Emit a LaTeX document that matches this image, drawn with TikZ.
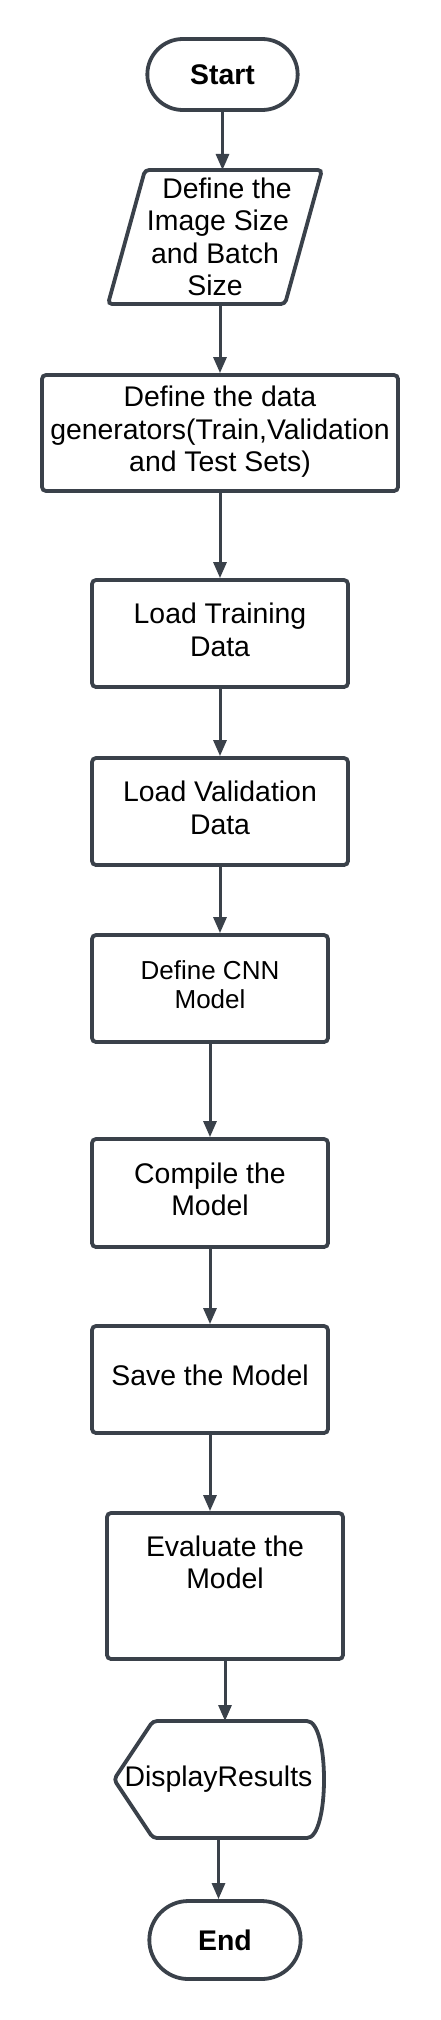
\documentclass[tikz,border=0pt]{standalone}
\usepackage{fontspec}
\setmainfont{Liberation Sans}
\usetikzlibrary{shapes.misc,arrows.meta,positioning}
\definecolor{linegray}{HTML}{3A414A}

\begin{document}
\begin{tikzpicture}[x=1pt,y=-1pt,on grid,
    font=\fontsize{28.4}{32.5}\selectfont,
    every node/.style={align=center,text=black},
    outline/.style={draw=linegray,line width=3.8pt,rounded corners=4pt},
    process/.style={rectangle,outline,text depth=8pt,minimum width=236pt,minimum height=107pt},
    io/.style={rectangle,line width=3.8pt,outer sep=0pt,minimum width=214pt,minimum height=134pt},
    display/.style={rectangle,line width=3.8pt,outer sep=0pt,minimum width=209pt,minimum height=117pt},
    term/.style={rounded rectangle,draw=linegray,line width=3.8pt,minimum width=157pt,minimum height=71pt,font=\fontsize{28.4}{32.5}\selectfont\bfseries},
    flow/.style={draw=linegray,line width=3pt,-{Triangle[width=13pt,length=16pt]}}]
  \useasboundingbox (0,0) rectangle (440,2020);

  \node[term] (start) at (222.5,74.5) {Start};
  \node[io] (size) [below=162.5pt of start, xshift=-7.5pt]
    {\hspace{24pt}Define the\\\hspace{6pt}Image Size\\and Batch\hspace{12pt}\\Size\hspace{34pt}};
  \node[process, minimum width=356pt, minimum height=116pt] (gen) [below=196pt of size, xshift=5pt]
    {Define the data\\generators(Train,Validation\\and Test Sets)};
  \node[process, minimum width=256pt] (train) [below=200.5pt of gen] {Load Training\\Data};
  \node[process, minimum width=256pt] (val) [below=178pt of train] {Load Validation\\Data};
  \node[process, font=\fontsize{26}{29}\selectfont] (cnn) [below=177pt of val, xshift=-10pt] {Define CNN\\Model};
  \node[process, minimum height=108pt] (compile) [below=204.5pt of cnn] {Compile the\\Model};
  \node[process] (save) [below=186.5pt of compile] {Save the Model};
  \node[process, minimum height=146pt, text depth=48pt] (eval) [below=206.5pt of save, xshift=15pt] {Evaluate the\\Model};
  \node[display] (disp) [below=193.5pt of eval, xshift=-6.5pt] {DisplayResults};
  \node[term, minimum width=158pt, minimum height=78pt] (stop) [below=160.5pt of disp, xshift=6.5pt] {End};

  % input and display outlines
  \draw[outline] ([xshift=37pt]size.north west) -- (size.north east)
    -- ([xshift=-37pt]size.south east) -- (size.south west) -- cycle;
  \draw[outline] ([xshift=39pt]disp.north west) -- ([xshift=-20pt]disp.north east)
    .. controls +(26.7pt,0pt) and +(26.7pt,0pt) .. ([xshift=-20pt]disp.south east)
    -- ([xshift=39pt]disp.south west) -- (disp.west) -- cycle;

  \draw[flow] (start.south) -- (start.south |- size.north);
  \draw[flow] (gen.north |- size.south) -- (gen.north);
  \draw[flow] (gen) -- (train);
  \draw[flow] (train) -- (val);
  \draw[flow] (val.south) -- (val.south |- cnn.north);
  \draw[flow] (cnn) -- (compile);
  \draw[flow] (compile) -- (save);
  \draw[flow] (save.south) -- (save.south |- eval.north);
  \draw[flow] (eval.south) -- (eval.south |- disp.north);
  \draw[flow] (disp.south) -- (disp.south |- stop.north);
\end{tikzpicture}
\end{document}
